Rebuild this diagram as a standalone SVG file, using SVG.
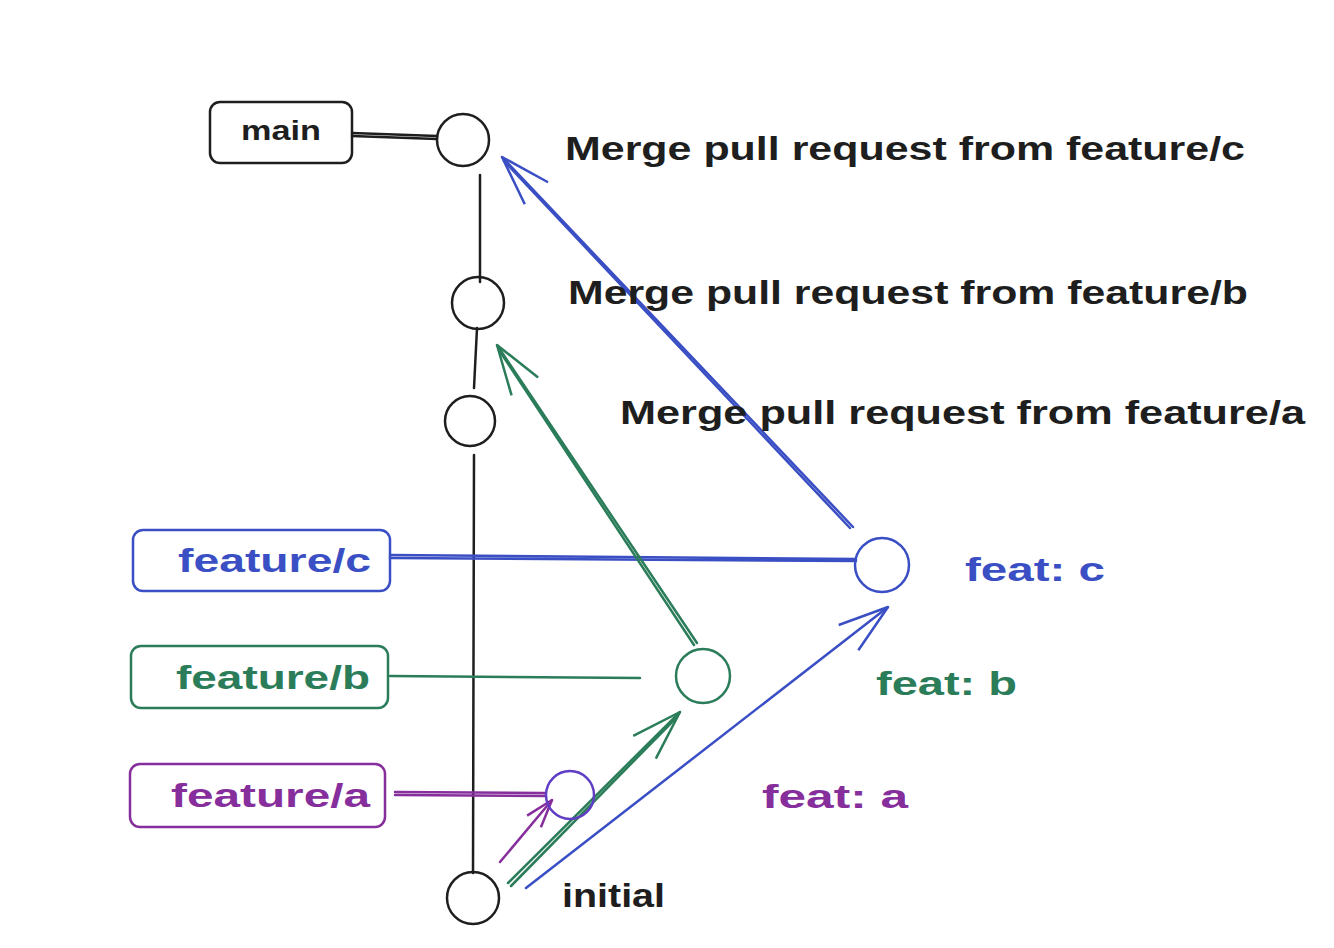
<svg xmlns="http://www.w3.org/2000/svg" width="1334" height="948" viewBox="0 0 1334 948">
<style>
text{font-family:"Liberation Sans","DejaVu Sans",sans-serif;font-weight:bold}
.k{stroke:#1e1e1e}.b{stroke:#3b4fc4}.g{stroke:#2b7d5a}.p{stroke:#862e9c}.v{stroke:#5f3dc4}
.sh{fill:none;stroke-width:2.5;stroke-linecap:round}
.tk{fill:#1e1e1e}.tb{fill:#3b4fc4}.tg{fill:#2b7d5a}.tp{fill:#862e9c}
</style>
<defs>
<marker id="ab" viewBox="-55 -22 60 44" refX="0" refY="0" markerWidth="60" markerHeight="44" markerUnits="userSpaceOnUse" orient="auto"><path d="M0,0 L-50,-16 M0,0 L-50,16" fill="none" stroke="#3b4fc4" stroke-width="2.5"/></marker>
<marker id="ag" viewBox="-55 -22 60 44" refX="0" refY="0" markerWidth="60" markerHeight="44" markerUnits="userSpaceOnUse" orient="auto"><path d="M0,0 L-50,-16 M0,0 L-50,16" fill="none" stroke="#2b7d5a" stroke-width="2.5"/></marker>
<marker id="ap" viewBox="-30 -12 35 24" refX="0" refY="0" markerWidth="35" markerHeight="24" markerUnits="userSpaceOnUse" orient="auto"><path d="M0,0 L-28,-9 M0,0 L-28,9" fill="none" stroke="#862e9c" stroke-width="2.5"/></marker>
</defs>
<rect width="1334" height="948" fill="#ffffff"/>
<g id="connectors" class="sh">
<path class="k" d="M352,133 L437,136 M352,136 L437,139"/>
<path class="k" d="M480,175 L480,282"/>
<path class="k" d="M477,328 L474,388"/>
<path class="k" d="M474,455 L473,873"/>
<path class="b" d="M390,555 L856,559 M390,558 L856,561"/>
<path class="g" d="M390,676 L640,678"/>
<path class="p" d="M395,792 L545,793 M395,795 L545,796"/>
<path class="b" d="M853,527 L502,157" marker-end="url(#ab)"/>
<path class="b" d="M850,528 L504,161"/>
<path class="g" d="M697,643 L497,345" marker-end="url(#ag)"/>
<path class="g" d="M694,645 L499,350"/>
<path class="p" d="M500,862 L552,800" marker-end="url(#ap)"/>
<path class="g" d="M508,883 L680,712" marker-end="url(#ag)"/>
<path class="g" d="M511,886 L677,717"/>
<path class="b" d="M526,888 L888,607" marker-end="url(#ab)"/>
</g>
<g id="main">
<rect class="sh k" x="210" y="102" width="142" height="61" rx="10"/>
<text class="tk" x="241" y="140" font-size="28" textLength="80" lengthAdjust="spacingAndGlyphs">main</text>
</g>
<g id="c-main"><circle class="sh k" cx="463" cy="140" r="26"/></g>
<g id="c-merge-b"><circle class="sh k" cx="478" cy="303" r="26"/></g>
<g id="c-merge-a"><circle class="sh k" cx="470" cy="421" r="25"/></g>
<g id="c-initial"><circle class="sh k" cx="473" cy="898" r="26"/></g>
<g id="c-feat-a"><circle class="sh v" cx="570" cy="795" r="24"/></g>
<g id="c-feat-b"><circle class="sh g" cx="703" cy="676" r="27"/></g>
<g id="c-feat-c"><circle class="sh b" cx="882" cy="565" r="27"/></g>
<g id="feature-c">
<rect class="sh b" x="133" y="530" width="257" height="61" rx="10"/>
<text class="tb" x="178" y="572" font-size="34" textLength="193" lengthAdjust="spacingAndGlyphs">feature/c</text>
</g>
<g id="feature-b">
<rect class="sh g" x="131" y="646" width="257" height="62" rx="10"/>
<text class="tg" x="176" y="689" font-size="34" textLength="194" lengthAdjust="spacingAndGlyphs">feature/b</text>
</g>
<g id="feature-a">
<rect class="sh p" x="130" y="764" width="255" height="63" rx="10"/>
<text class="tp" x="171" y="807" font-size="34" textLength="199" lengthAdjust="spacingAndGlyphs">feature/a</text>
</g>
<g id="labels">
<text class="tk" x="565" y="160" font-size="34" textLength="680" lengthAdjust="spacingAndGlyphs">Merge pull request from feature/c</text>
<text class="tk" x="568" y="304" font-size="34" textLength="680" lengthAdjust="spacingAndGlyphs">Merge pull request from feature/b</text>
<text class="tk" x="620" y="424" font-size="34" textLength="685" lengthAdjust="spacingAndGlyphs">Merge pull request from feature/a</text>
<text class="tb" x="965" y="581" font-size="34" textLength="140" lengthAdjust="spacingAndGlyphs">feat: c</text>
<text class="tg" x="876" y="695" font-size="34" textLength="141" lengthAdjust="spacingAndGlyphs">feat: b</text>
<text class="tp" x="762" y="808" font-size="34" textLength="146" lengthAdjust="spacingAndGlyphs">feat: a</text>
<text class="tk" x="562" y="907" font-size="33" textLength="103" lengthAdjust="spacingAndGlyphs">initial</text>
</g>
</svg>
